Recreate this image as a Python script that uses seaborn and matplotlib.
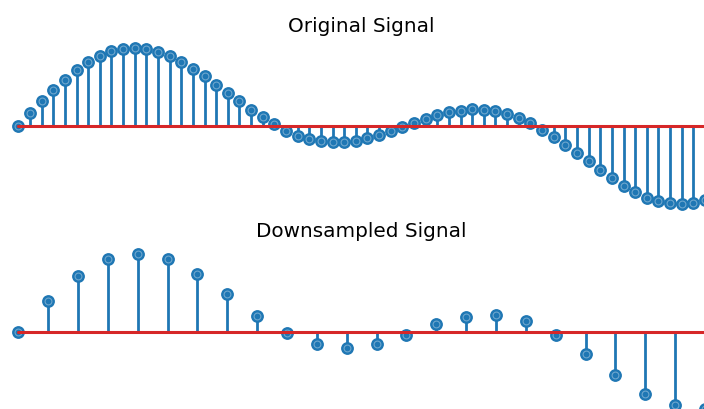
import numpy as np
import pandas as pd
import matplotlib
matplotlib.use("Agg")
import matplotlib.pyplot as plt
import seaborn as sns

# ---- data ----
original_values = [
    0.00, 0.29, 0.57, 0.81, 1.05, 1.26, 1.45, 1.59, 1.70, 1.75,
    1.76, 1.74, 1.68, 1.58, 1.45, 1.30, 1.13, 0.94, 0.75, 0.56,
    0.37, 0.20, 0.04, -0.11, -0.22, -0.30, -0.35, -0.36, -0.36, -0.33,
    -0.27, -0.21, -0.12, -0.02, 0.08, 0.17, 0.24, 0.31, 0.35, 0.38,
    0.37, 0.33, 0.28, 0.18, 0.08, -0.08, -0.24, -0.42, -0.61, -0.80,
    -0.99, -1.18, -1.35, -1.50, -1.62, -1.70, -1.75, -1.77, -1.74, -1.68,
]
downsampled_values = [
    0.00, 0.69, 1.27, 1.64, 1.77, 1.64, 1.30, 0.85, 0.36, -0.04,
    -0.29, -0.37, -0.28, -0.07, 0.17, 0.34, 0.38, 0.23, -0.07, -0.51,
    -0.99, -1.43, -1.68, -1.75,
]
titles = ["Original Signal", "Downsampled Signal"]

sns.set_style("white")
plt.rcParams["font.family"] = ["DejaVu Sans"]

W, H = 704, 410
fig = plt.figure(figsize=(W / 100, H / 100), dpi=100)
fig.patch.set_facecolor("white")

ax_top = fig.add_axes([-16 / W, 0.4807, 755.3 / W, 171.3 / H])
ax_bot = fig.add_axes([-16 / W, -0.0178, 755.3 / W, 170.4 / H])

pal = sns.color_palette("tab10")
blue = pal[0]
red = pal[3]

for ax, vals, title in zip([ax_top, ax_bot], [original_values, downsampled_values], titles):
    df = pd.DataFrame({"n": np.arange(len(vals)), "value": vals})
    markerline, stemlines, baseline = ax.stem(df["n"], df["value"], basefmt="-")
    stemlines.set_color(blue)
    stemlines.set_linewidth(2.0)
    stemlines.set_zorder(2)
    markerline.set_color(blue)
    markerline.set_markersize(8.2)
    markerline.set_zorder(2.1)
    sns.scatterplot(data=df, x="n", y="value", ax=ax, color=blue, s=24,
                    edgecolor=(1, 1, 1, 0.35), linewidth=0.8, zorder=2.2, legend=False)
    baseline.set_color(red)
    baseline.set_linewidth(2.2)
    baseline.set_zorder(2.5)
    ax.set_title(title, fontsize=14.4, pad=7, color="black")
    ax.axis("off")

fig.savefig("out.png", dpi=100, facecolor="white")
